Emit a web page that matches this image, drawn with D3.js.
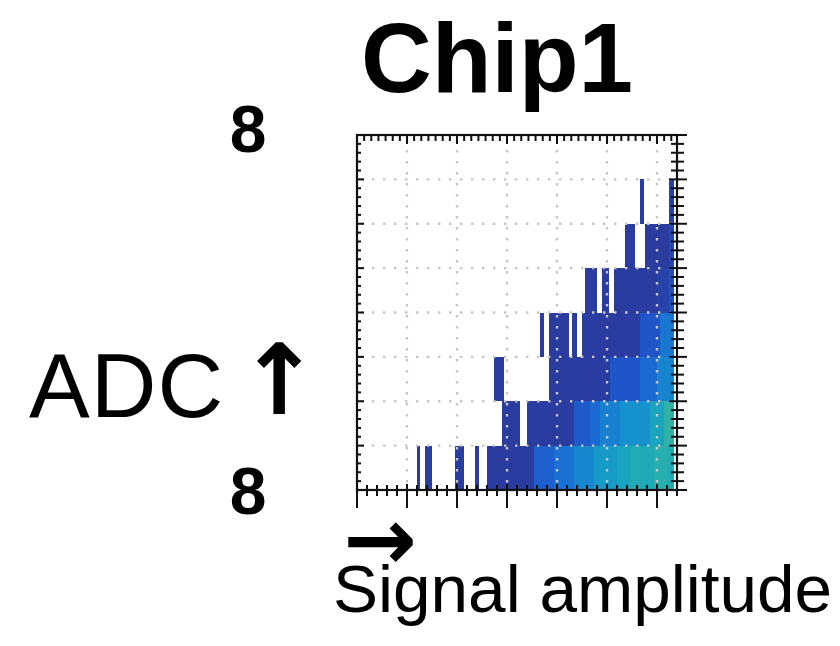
<!DOCTYPE html>
<html><head><meta charset="utf-8">
<script src="https://cdn.jsdelivr.net/npm/d3@7"></script>
<style>body{margin:0;background:#fff}svg{display:block}</style>
</head><body>
<svg id="c" width="840" height="646"></svg>
<script>
// ---------------- data ----------------
const title = "Chip1";
const yAxisTitle = "ADC";
const yArrow = "\u2191";
const xArrow = "\u2192";
const xAxisTitle = "Signal amplitude";
const yTickValues = [8, 0];
const yTickLabels = ["8", "8"];
const xGridValues = [1, 2, 3, 4, 5, 6];
const yGridValues = [1, 2, 3, 4, 5, 6, 7];
const xDomain = [0, 6.4];
const yDomain = [0, 8];
const binWidth = 1 / 30;            // amplitude units per x bin
// runs per ADC row (bottom to top): [firstBin, endBin (exclusive), count]
const row0 = [[36,38,1],[41,45,1],[59,64,1],[71,73,1],[78,106,1],[106,118,7],[118,130,11],[130,142,16],[142,156,22],[156,164,26],[164,172,29],[172,178,28],[178,186,31],[186,190,29]];
const row1 = [[87,98,1],[102,130,1],[130,140,6],[140,146,9],[146,158,14],[158,176,19],[176,184,26],[184,190,33]];
const row2 = [[82,88,1],[115,152,1],[152,170,5],[170,180,9],[180,190,15]];
const row3 = [[110,112,1],[115,127,1],[129,132,1],[135,170,1],[170,182,5],[182,190,12]];
const row4 = [[137,144,1],[147,151,1],[154,180,1],[180,187,2],[187,190,4]];
const row5 = [[161,167,1],[173,187,1],[187,190,3]];
const row6 = [[170,172,1],[187,190,2]];
const row7 = [];
const rows = [row0, row1, row2, row3, row4, row5, row6, row7];
// colour palette (count -> colour)
const paletteCounts = [1, 5, 10, 15, 20, 25, 30, 35];
const paletteColors = ["#2a3c9f", "#1f55c8", "#1a6ed4", "#1784d0", "#1596cc", "#17a2c2", "#22adb2", "#3cb59e"];

// ---------------- drawing ----------------
const svg = d3.select("#c");
const L = 357, R = 677, T = 135, B = 490;
const x = d3.scaleLinear().domain(xDomain).range([L, R]);
const y = d3.scaleLinear().domain(yDomain).range([B, T]);
const color = d3.scaleLinear().domain(paletteCounts).range(paletteColors).clamp(true);

const cells = [];
rows.forEach((runs, i) => runs.forEach(r => cells.push({row: i, b0: r[0], b1: r[1], c: r[2]})));

svg.append("clipPath").attr("id", "plotclip")
  .append("rect").attr("x", L).attr("y", T).attr("width", R - L).attr("height", B - T);

svg.append("g").attr("clip-path", "url(#plotclip)")
  .selectAll("rect").data(cells).join("rect")
  .attr("x", d => x(d.b0 * binWidth))
  .attr("width", d => x(d.b1 * binWidth) - x(d.b0 * binWidth))
  .attr("y", d => y(d.row + 1))
  .attr("height", d => y(d.row) - y(d.row + 1))
  .attr("fill", d => color(d.c))
  .attr("shape-rendering", "crispEdges");

// grid (dotted)
const grid = svg.append("g").attr("stroke", "#c6c6c6").attr("stroke-width", 2.4)
  .attr("stroke-dasharray", "2.4,8.6");
grid.selectAll(".gx").data(xGridValues).join("line")
  .attr("x1", d => x(d)).attr("x2", d => x(d)).attr("y1", T + 4).attr("y2", B);
grid.selectAll(".gy").data(yGridValues).join("line")
  .attr("y1", d => y(d)).attr("y2", d => y(d)).attr("x1", L + 4).attr("x2", R);

// axes ticks
const ax = svg.append("g").attr("stroke", "#111").attr("stroke-width", 2).attr("fill", "none");
const yMinor = d3.range(0, 8.0001, 0.2);
const isInt = v => Math.abs(v - Math.round(v)) < 1e-6;
ax.selectAll(".tl").data(yMinor).join("line")
  .attr("x1", L).attr("x2", d => L + (isInt(d) ? 7 : 4))
  .attr("y1", d => y(d)).attr("y2", d => y(d));
ax.selectAll(".tr").data(yMinor).join("line")
  .attr("x1", d => R - (isInt(d) ? 8 : 6)).attr("x2", d => R + (isInt(d) ? 10 : 7))
  .attr("y1", d => y(d)).attr("y2", d => y(d));
const xTopTicks = d3.range(0, 6.4001, 1 / 7);
ax.selectAll(".tt").data(xTopTicks).join("line")
  .attr("x1", d => x(d)).attr("x2", d => x(d))
  .attr("y1", T).attr("y2", d => T + (isInt(d) ? 9 : 6));
const xBotTicks = d3.range(0, 6.4001, 0.2);
ax.selectAll(".tb").data(xBotTicks).join("line")
  .attr("x1", d => x(d)).attr("x2", d => x(d))
  .attr("y1", d => B - (isInt(d) ? 6 : 5)).attr("y2", d => B + (isInt(d) ? 18 : 6));
svg.append("rect").attr("x", L).attr("y", T).attr("width", R - L).attr("height", B - T)
  .attr("fill", "none").attr("stroke", "#111").attr("stroke-width", 2.2);

// texts
const font = "'Liberation Sans', Arial, Helvetica, sans-serif";
const arrowFont = "'DejaVu Sans', sans-serif";
svg.append("text").attr("x", 497).attr("y", 92).attr("text-anchor", "middle")
  .attr("font-family", font).attr("font-weight", "bold").attr("font-size", 98).text(title);

svg.selectAll(".ylab").data(yTickValues).join("text")
  .attr("x", 248).attr("y", (d, i) => y(d) + (i === 0 ? 17 : 24)).attr("text-anchor", "middle")
  .attr("font-family", font).attr("font-weight", "bold").attr("font-size", 66)
  .text((d, i) => yTickLabels[i]);

const yt = svg.append("text").attr("y", 417).attr("font-family", font).attr("font-size", 91);
yt.append("tspan").attr("x", 29).attr("letter-spacing", 1).text(yAxisTitle);
yt.append("tspan").attr("x", 279).attr("text-anchor", "middle").attr("font-family", arrowFont)
  .attr("font-weight", "bold").attr("font-size", 98).attr("y", 414).text(yArrow);

const xt = svg.append("text").attr("font-family", font).attr("font-size", 67.5);
xt.append("tspan").attr("x", 380).attr("y", 570).attr("text-anchor", "middle")
  .attr("font-family", arrowFont).attr("font-weight", "bold").attr("font-size", 88).text(xArrow);
xt.append("tspan").attr("x", 333).attr("y", 612).text(xAxisTitle);
</script>
</body></html>
